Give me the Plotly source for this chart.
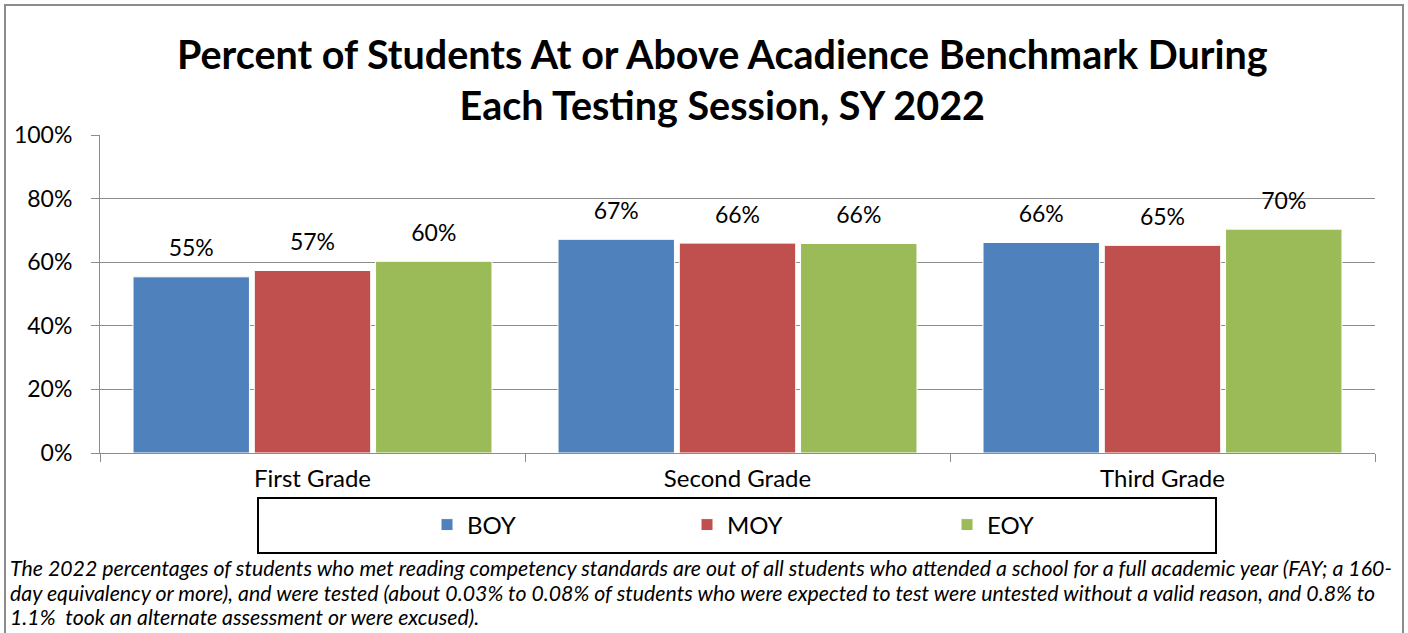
import plotly.graph_objects as go

grades = ["First Grade", "Second Grade", "Third Grade"]
sessions = ["BOY", "MOY", "EOY"]
boy = [55.4, 67.2, 66.2]
moy = [57.4, 66.0, 65.3]
eoy = [60.3, 65.9, 70.4]
colors = {"BOY": "#4F81BD", "MOY": "#C0504D", "EOY": "#9BBB59"}

title_text = "Percent of Students At or Above Acadience Benchmark During<br>Each Testing Session, SY 2022"
footnote_lines = [
    "The 2022 percentages of students who met reading competency standards are out of all students who attended a school for a full academic year (FAY; a 160-",
    "day equivalency or more), and were tested (about 0.03% to 0.08% of students who were expected to test were untested without a valid reason, and 0.8% to",
    "1.1%  took an alternate assessment or were excused).",
]

W, H = 1408, 633
L, R, T, B = 100, 33, 135, 180
pw, ph = W - L - R, H - T - B


def px_x(x):
    return (x - L) / pw


def px_y(y):
    return (H - B - y) / ph


fig = go.Figure()
for name, vals in zip(sessions, [boy, moy, eoy]):
    fig.add_trace(go.Bar(
        x=grades, y=vals, name=name,
        marker=dict(color=colors[name], line=dict(color="white", width=1)),
        offsetgroup=name, alignmentgroup="g",
    ))
# data labels, grouped like the bars
for name, vals in zip(sessions, [boy, moy, eoy]):
    fig.add_trace(go.Scatter(
        x=grades, y=vals, mode="markers+text", showlegend=False,
        marker=dict(size=22, color="rgba(0,0,0,0)"),
        text=[f"{v:.0f}%" for v in vals], textposition="top center",
        textfont=dict(size=23, color="black"),
        offsetgroup=name, alignmentgroup="g", cliponaxis=False, hoverinfo="skip",
    ))

fig.update_layout(
    width=W, height=H,
    margin=dict(l=L, r=R, t=T, b=B),
    paper_bgcolor="white", plot_bgcolor="white",
    font=dict(family="Lato, Calibri, sans-serif", color="black"),
    barmode="group", bargap=0.144, bargroupgap=0.04,
    scattermode="group", scattergap=0.144,
    showlegend=True,
    legend=dict(
        orientation="h", xref="paper", x=px_x(427), xanchor="left",
        y=px_y(525), yanchor="middle",
        font=dict(size=24), entrywidth=215, bgcolor="rgba(0,0,0,0)",
    ),
)
fig.update_yaxes(
    range=[0, 100], dtick=20, ticksuffix="%",
    showgrid=True, gridcolor="#8c8c8c", gridwidth=1,
    showline=True, linecolor="#8c8c8c", ticks="outside", ticklen=8, tickcolor="#8c8c8c",
    tickfont=dict(size=23), zeroline=False, ticklabelstandoff=14,
)
fig.update_xaxes(
    showline=True, linecolor="#8c8c8c", ticks="outside", ticklen=8, tickcolor="#8c8c8c",
    tickson="boundaries", tickfont=dict(size=24), ticklabelstandoff=4,
)

fig.add_annotation(
    text=title_text, xref="paper", yref="paper",
    x=px_x(722), y=px_y(28), xanchor="center", yanchor="top",
    showarrow=False, font=dict(size=39.5, color="black", weight="bold"),
)
fig.add_shape(type="rect", xref="paper", yref="paper",
              x0=px_x(258), x1=px_x(1216), y0=px_y(498), y1=px_y(553),
              line=dict(color="black", width=2))
fig.add_shape(type="rect", xref="paper", yref="paper",
              x0=px_x(5), x1=px_x(1403), y0=px_y(660), y1=px_y(5),
              line=dict(color="#8c8c8c", width=2))

for i, line in enumerate(footnote_lines):
    fig.add_annotation(
        text=line, xref="paper", yref="paper",
        x=px_x(8), y=px_y(568 + 24.5 * i), xanchor="left", yanchor="middle", align="left",
        showarrow=False, font=dict(size=21.3, style="italic", color="black"),
    )

fig.write_html("out.html", post_script="document.body.style.margin='0';",
               config={"displayModeBar": False})
